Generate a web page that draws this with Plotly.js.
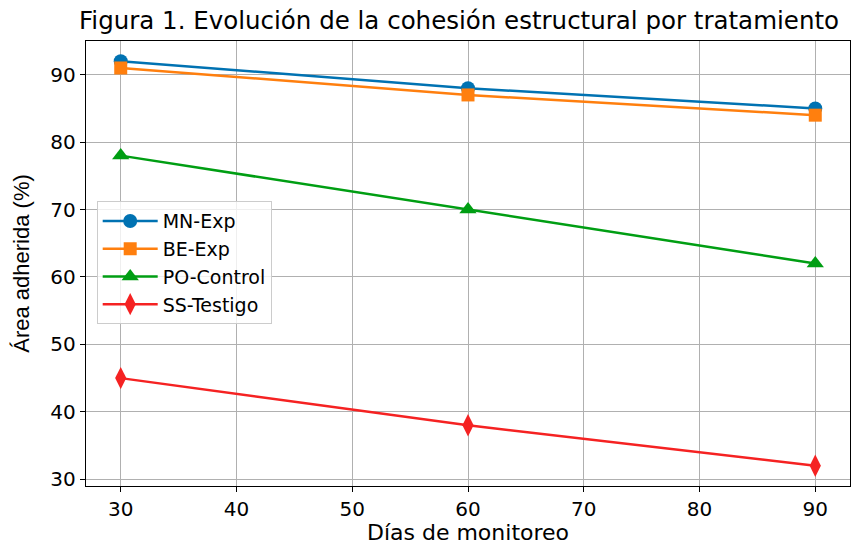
<!DOCTYPE html>
<html>
<head>
<meta charset="utf-8">
<script src="https://cdn.plot.ly/plotly-3.0.1.min.js"></script>
<style>html,body{margin:0;padding:0;background:#fff;}#chart{width:858px;height:545px;}</style>
</head>
<body>
<div id="chart"></div>
<script>
const dias = [30, 60, 90];
const seriesNames = ["MN-Exp", "BE-Exp", "PO-Control", "SS-Testigo"];
const mnExp = [92, 88, 85];
const beExp = [91, 87, 84];
const poControl = [78, 70, 62];
const ssTestigo = [45, 38, 32];
const xTicks = [30, 40, 50, 60, 70, 80, 90];
const yTicks = [30, 40, 50, 60, 70, 80, 90];

const colors = ["#0072B2", "#FF7F0E", "#009E13", "#F52222"];
const symbols = ["circle", "square", "triangle-up", "diamond-tall"];
const sizes = [14, 13, 15, 16];
const values = [mnExp, beExp, poControl, ssTestigo];

const traces = values.map((v, i) => ({
  x: dias, y: v, name: seriesNames[i], type: "scatter", mode: "lines+markers",
  line: {color: colors[i], width: 2.5},
  marker: {color: colors[i], symbol: symbols[i], size: sizes[i], line: {width: 0}}
}));

const font = "DejaVu Sans, sans-serif";
const layout = {
  width: 858, height: 545,
  margin: {l: 86, r: 8, t: 41, b: 58.5},
  paper_bgcolor: "#fff", plot_bgcolor: "#fff",
  font: {family: font, size: 20, color: "#000"},
  title: {text: "Figura 1. Evolución de la cohesión estructural por tratamiento",
    font: {family: font, size: 24.5, color: "#000"}, x: 0.535, xanchor: "center", y: 0.962, yanchor: "middle"},
  xaxis: {
    range: [27, 93], tickvals: xTicks, ticktext: xTicks.map(String),
    showgrid: true, gridcolor: "#b0b0b0", gridwidth: 1,
    showline: true, linecolor: "#000", linewidth: 1.2, mirror: true,
    ticks: "outside", ticklen: 5, tickcolor: "#000", zeroline: false,
    tickfont: {family: font, size: 20, color: "#000"},
    title: {text: "Días de monitoreo", font: {family: font, size: 22, color: "#000"}, standoff: 12}
  },
  yaxis: {
    range: [29, 95], tickvals: yTicks, ticktext: yTicks.map(String),
    showgrid: true, gridcolor: "#b0b0b0", gridwidth: 1,
    showline: true, linecolor: "#000", linewidth: 1.2, mirror: true,
    ticks: "outside", ticklen: 5, tickcolor: "#000", zeroline: false,
    tickfont: {family: font, size: 20, color: "#000"},
    title: {text: "Área adherida (%)", font: {family: "Liberation Sans, Arial, sans-serif", size: 22, color: "#000"}, standoff: 14}
  },
  legend: {
    x: 0.014, y: 0.64, xanchor: "left", yanchor: "top",
    bgcolor: "rgba(255,255,255,0.8)", bordercolor: "#cccccc", borderwidth: 1,
    font: {family: font, size: 19, color: "#000"},
    tracegroupgap: 0, itemwidth: 55
  },
  showlegend: true
};

Plotly.newPlot("chart", traces, layout, {displayModeBar: false, staticPlot: true});
</script>
</body>
</html>
